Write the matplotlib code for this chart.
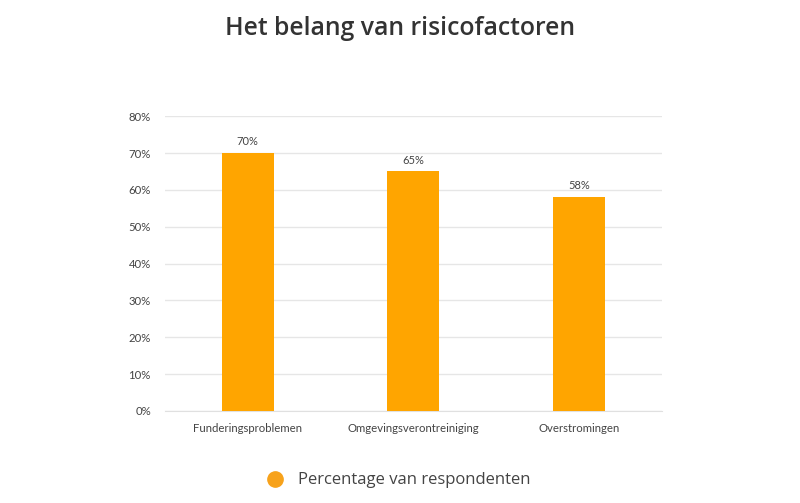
import matplotlib
matplotlib.use("Agg")
import matplotlib.pyplot as plt
from matplotlib.lines import Line2D

categories = ["Funderingsproblemen", "Omgevingsverontreiniging", "Overstromingen"]
values = [70, 65, 58]
yticks = [0, 10, 20, 30, 40, 50, 60, 70, 80]
title = "Het belang van risicofactoren"
legend_label = "Percentage van respondenten"

plt.rcParams['font.family'] = ['Lato', 'DejaVu Sans']

fig = plt.figure(figsize=(8, 5.03), dpi=100)
ax = fig.add_axes([0.206, 0.183, 0.6215, 0.586])

color = "#FFA500"
x = list(range(len(categories)))
bars = ax.bar(x, values, width=0.314, color=color, zorder=3)
for xi, v in zip(x, values):
    ax.text(xi, v + 1.6, f"{v}%", ha="center", va="bottom", fontsize=8, color="#444444")

ax.set_xlim(-0.5, len(categories) - 0.5)
ax.set_ylim(0, 80)
ax.set_yticks(yticks)
ax.set_yticklabels([f"{t}%" for t in yticks])
ax.set_xticks(x)
ax.set_xticklabels(categories)
ax.tick_params(axis="both", length=0, labelsize=8.2, labelcolor="#444444")
ax.tick_params(axis="y", pad=10)
ax.tick_params(axis="x", pad=9)
ax.grid(axis="y", color="#e6e6e6", linewidth=1, zorder=0)
for s in ["top", "right", "left"]:
    ax.spines[s].set_visible(False)
ax.spines["bottom"].set_color("#e0e0e0")

fig.text(0.5, 0.944, title, ha="center", va="center", fontsize=17.8, fontweight="semibold",
         color="#333333", family=["Open Sans", "DejaVu Sans"])

handle = Line2D([], [], marker="o", linestyle="none", markersize=11, markerfacecolor="#F7A21B", markeredgecolor="#F7A21B")
fig.legend([handle], [legend_label], loc="center", bbox_to_anchor=(0.493, 0.045), frameon=False,
           prop={"family": ["Open Sans", "DejaVu Sans"], "size": 12}, labelcolor="#444444",
           handletextpad=0.4)

fig.savefig("out.png", dpi=100)
